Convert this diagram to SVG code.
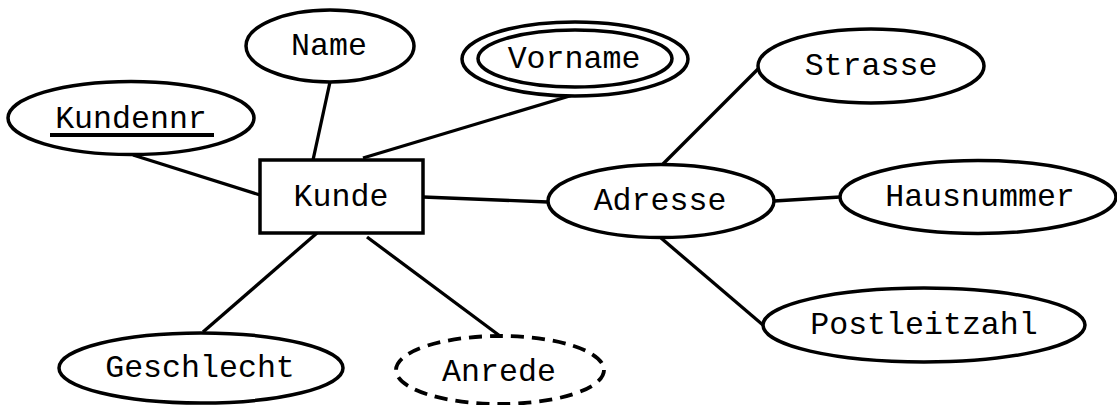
<svg xmlns="http://www.w3.org/2000/svg" width="1117" height="405" viewBox="0 0 1117 405">
<style>
.s{fill:none;stroke:#000;stroke-width:3.3}
.e{fill:#fff;stroke:#000;stroke-width:3.5}
.d{fill:#fff;stroke:#000;stroke-width:3.8;stroke-dasharray:13 8}
.t{font-family:"Liberation Mono","Courier New",monospace;font-size:31.6px;fill:#000;text-anchor:middle}
</style>
<rect width="1117" height="405" fill="#fff"/>
<g id="connectors" class="s">
<line x1="133" y1="155" x2="260" y2="195"/>
<line x1="330" y1="82" x2="313" y2="160"/>
<line x1="573" y1="95" x2="363" y2="158"/>
<line x1="423" y1="197" x2="548" y2="202"/>
<line x1="760" y1="67" x2="663" y2="164"/>
<line x1="774" y1="201" x2="840" y2="197"/>
<line x1="661" y1="238" x2="763" y2="325"/>
<line x1="317" y1="233" x2="203" y2="332"/>
<line x1="367" y1="237" x2="500" y2="336"/>
</g>
<g id="kundennr">
<ellipse class="e" cx="131" cy="118" rx="123" ry="36.5"/>
<text class="t" x="131" y="128">Kundennr</text>
<line x1="50" y1="135" x2="214" y2="135" stroke="#000" stroke-width="4"/>
</g>
<g id="name">
<ellipse class="e" cx="330" cy="46" rx="84" ry="36"/>
<text class="t" x="329" y="55">Name</text>
</g>
<g id="vorname">
<ellipse class="e" cx="575" cy="59" rx="113" ry="37"/>
<ellipse class="e" cx="575" cy="58.5" rx="97" ry="28.5"/>
<text class="t" x="574" y="68">Vorname</text>
</g>
<g id="kunde">
<rect class="e" x="260" y="160" width="163" height="73"/>
<text class="t" x="341" y="206">Kunde</text>
</g>
<g id="strasse">
<ellipse class="e" cx="871" cy="66" rx="113" ry="37"/>
<text class="t" x="871" y="75">Strasse</text>
</g>
<g id="adresse">
<ellipse class="e" cx="661" cy="201" rx="113" ry="36.5"/>
<text class="t" x="660" y="210">Adresse</text>
</g>
<g id="hausnummer">
<ellipse class="e" cx="978" cy="197" rx="138" ry="36.5"/>
<text class="t" x="980" y="206">Hausnummer</text>
</g>
<g id="postleitzahl">
<ellipse class="e" cx="924" cy="325" rx="161" ry="37"/>
<text class="t" x="924" y="334">Postleitzahl</text>
</g>
<g id="geschlecht">
<ellipse class="e" cx="201" cy="368" rx="142" ry="35"/>
<text class="t" x="200" y="377">Geschlecht</text>
</g>
<g id="anrede">
<ellipse class="d" cx="500" cy="370" rx="104" ry="34"/>
<text class="t" x="499" y="381">Anrede</text>
</g>
</svg>
